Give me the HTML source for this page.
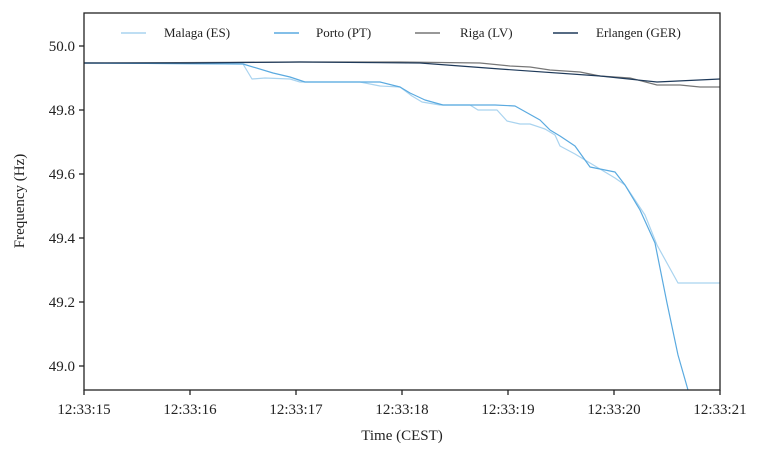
<!DOCTYPE html>
<html><head><meta charset="utf-8"><style>
body{margin:0;background:#fff}
text{font-family:"Liberation Serif",serif;fill:#222}
</style></head><body>
<svg width="768" height="456" viewBox="0 0 768 456" xmlns="http://www.w3.org/2000/svg">
<rect x="0" y="0" width="768" height="456" fill="#fff"/>
<g fill="none" stroke-width="1.2" stroke-linejoin="round">
<polyline stroke="#a9d3ef" points="84,63 243,64 252,79 265,78 290,79 300,82 360,82 380,86 400,87 412,96 422,102 440,105 470,105 478,110 497,110 507,121 520,124 530,124 545,129 555,135 560,146 575,154 590,163 615,178 625,185 645,215 657,245 678,283 720,283"/>
<polyline stroke="#5aaae0" points="84,63 243,64 273,73 290,77 305,82 380,82 400,87 410,93 425,100 443,105 495,105 515,106 540,120 550,130 560,136 575,146 590,167 600,169 615,172 625,185 640,210 655,243 667,303 678,355 688,390"/>
<polyline stroke="#777" points="84,63 300,62 400,62 480,63 510,66 530,67 550,70 580,72 600,76 630,78 657,85 680,85 700,87 720,87"/>
<polyline stroke="#1f3a5a" points="84,63 190,63 300,62 420,63 500,69 600,76 657,82 720,79"/>
</g>
<rect x="84" y="13" width="636" height="377" fill="none" stroke="#222" stroke-width="1.3"/>
<g stroke="#222" stroke-width="1.3">
<line x1="84" y1="46" x2="79" y2="46"/><line x1="84" y1="110" x2="79" y2="110"/><line x1="84" y1="174" x2="79" y2="174"/><line x1="84" y1="238" x2="79" y2="238"/><line x1="84" y1="302" x2="79" y2="302"/><line x1="84" y1="366" x2="79" y2="366"/>
<line x1="84" y1="390" x2="84" y2="395"/><line x1="190" y1="390" x2="190" y2="395"/><line x1="296" y1="390" x2="296" y2="395"/><line x1="402" y1="390" x2="402" y2="395"/><line x1="508" y1="390" x2="508" y2="395"/><line x1="614" y1="390" x2="614" y2="395"/><line x1="720" y1="390" x2="720" y2="395"/>
</g>
<g font-size="15" text-anchor="end">
<text x="75" y="51">50.0</text><text x="75" y="115">49.8</text><text x="75" y="179">49.6</text><text x="75" y="243">49.4</text><text x="75" y="307">49.2</text><text x="75" y="371">49.0</text>
</g>
<g font-size="15" text-anchor="middle">
<text x="84" y="414">12:33:15</text><text x="190" y="414">12:33:16</text><text x="296" y="414">12:33:17</text><text x="402" y="414">12:33:18</text><text x="508" y="414">12:33:19</text><text x="614" y="414">12:33:20</text><text x="720" y="414">12:33:21</text>
<text x="402" y="440">Time (CEST)</text>
<text transform="translate(24,201) rotate(-90)">Frequency (Hz)</text>
</g>
<g stroke-width="1.5">
<line x1="121" y1="33" x2="146" y2="33" stroke="#a9d3ef"/>
<line x1="274" y1="33" x2="299" y2="33" stroke="#5aaae0"/>
<line x1="415" y1="33" x2="440" y2="33" stroke="#777"/>
<line x1="553" y1="33" x2="578" y2="33" stroke="#1f3a5a"/>
</g>
<g font-size="13">
<text x="164" y="37">Malaga (ES)</text>
<text x="316" y="37">Porto (PT)</text>
<text x="460" y="37">Riga (LV)</text>
<text x="596" y="37">Erlangen (GER)</text>
</g>
</svg>
</body></html>
